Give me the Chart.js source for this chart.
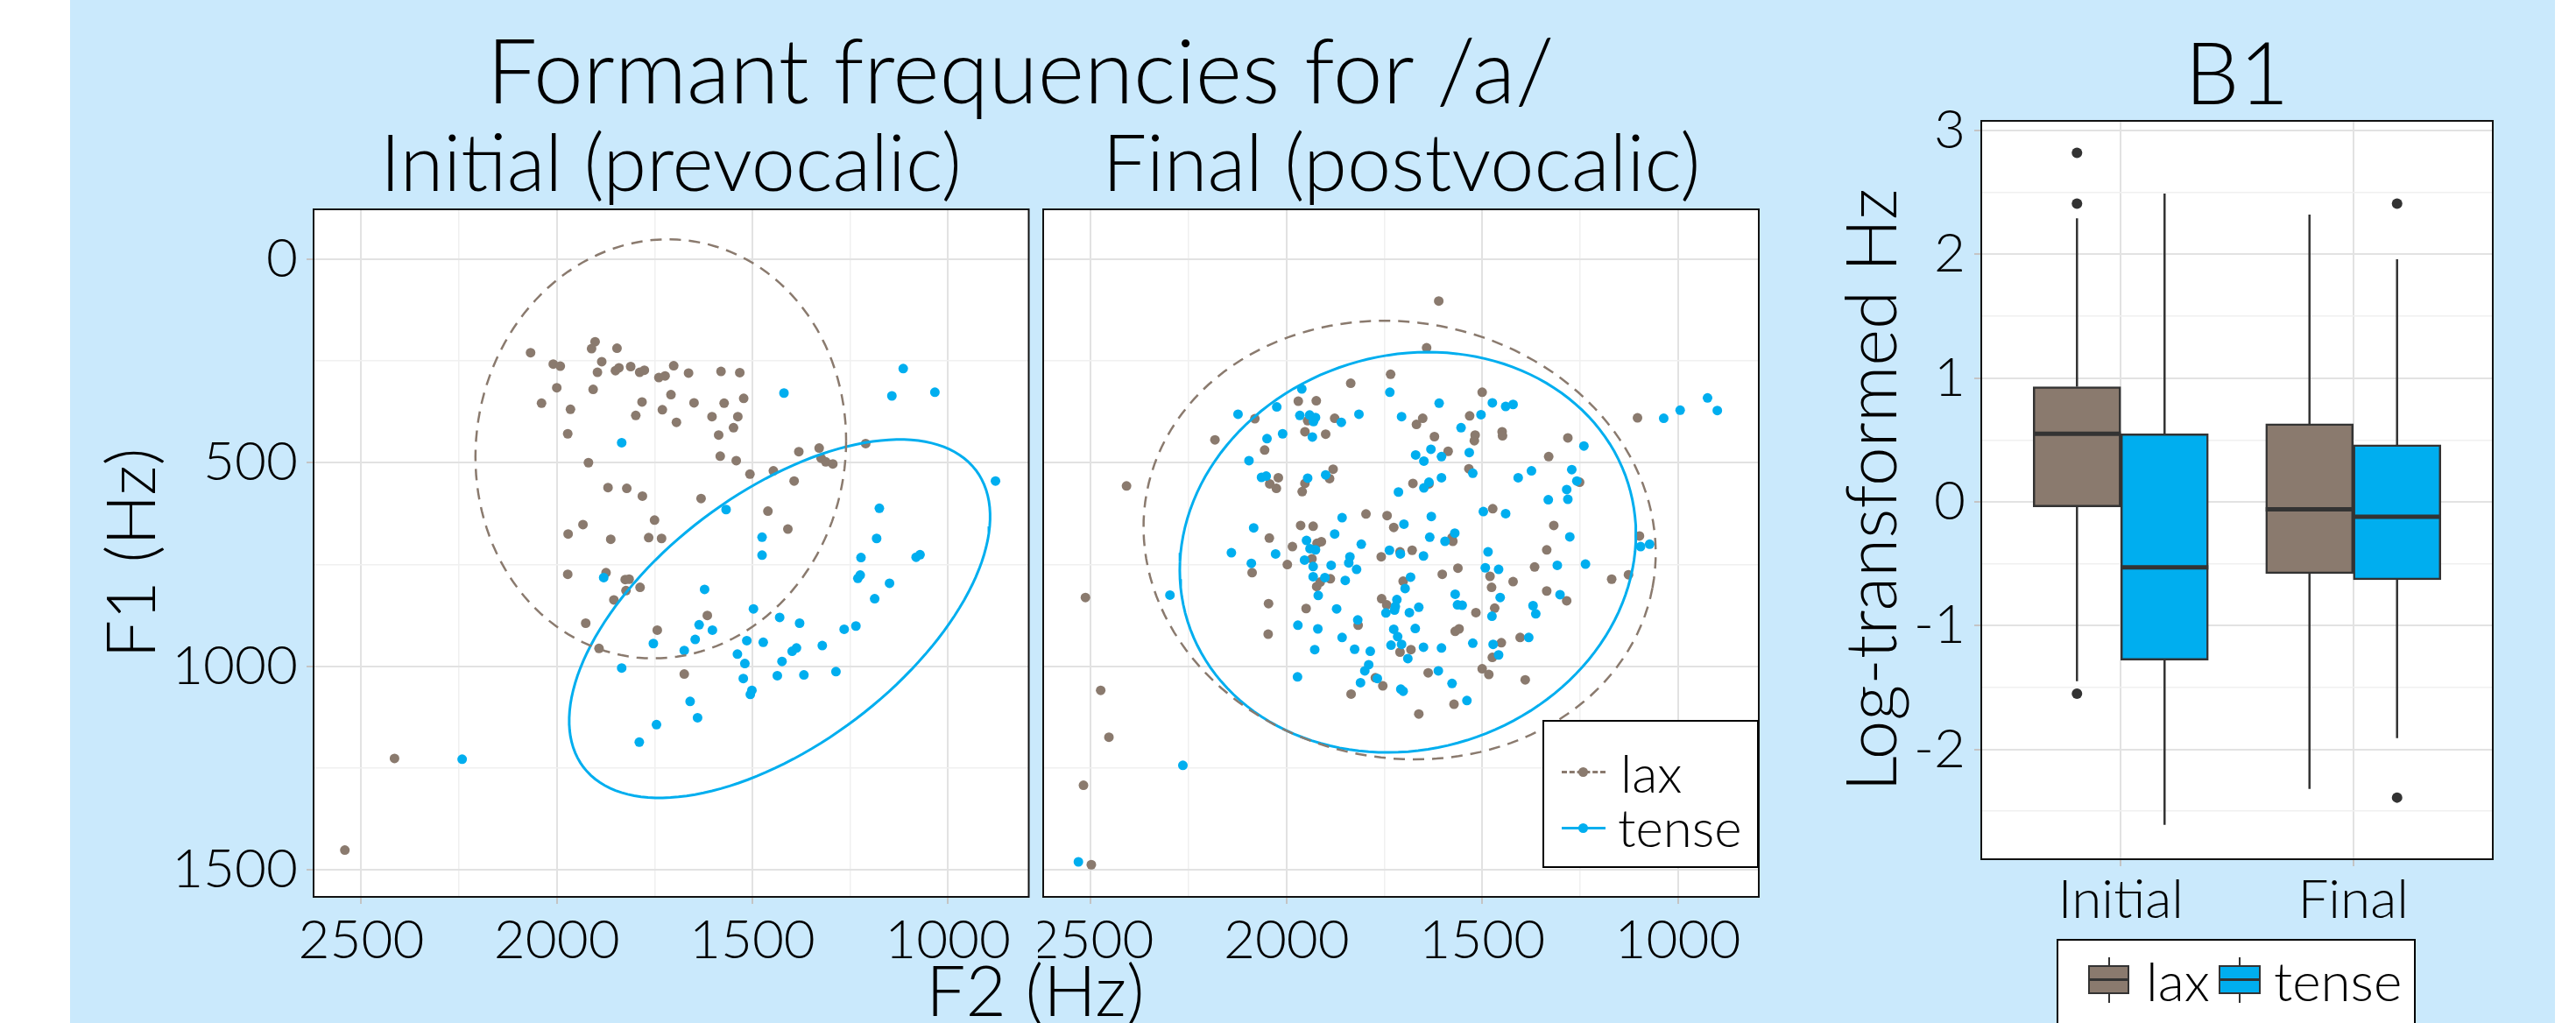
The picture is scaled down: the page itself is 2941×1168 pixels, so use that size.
<!DOCTYPE html>
<html>
<head>
<meta charset="utf-8">
<script src="https://cdn.jsdelivr.net/npm/chart.js@4.4.1/dist/chart.umd.min.js"></script>
<style>
  body { margin: 0; width: 2941px; height: 1168px; background: #fff; position: relative; overflow: hidden; font-family: Lato, "Open Sans", sans-serif; font-weight: 300; }
  #bg { position: absolute; left: 80px; top: 0; width: 2837px; height: 1168px; background: #cae9fc; }
  canvas { position: absolute; top: 0; }
  .txt { position: absolute; white-space: nowrap; line-height: 1; color: #000; transform: translateX(-50%); }
  .legend { position: absolute; background: #fff; border: 2px solid #000; }
  .legend span { position: absolute; line-height: 1; white-space: nowrap; }
</style>
</head>
<body>
<div id="bg"></div>
<canvas id="cInit" width="1100" height="1168" style="left:80px"></canvas>
<canvas id="cFinal" width="830" height="1168" style="left:1185px"></canvas>
<canvas id="cBox" width="810" height="1168" style="left:2085px"></canvas>

<div class="txt" style="left:1165px;top:28px;font-size:102px">Formant frequencies for /a/</div>
<div class="txt" style="left:766px;top:138px;font-size:90px">Initial (prevocalic)</div>
<div class="txt" style="left:1600px;top:138px;font-size:90px">Final (postvocalic)</div>
<div class="txt" style="left:1182px;top:1089px;font-size:80px">F2 (Hz)</div>
<div class="txt" style="left:2554px;top:32px;font-size:98px">B1</div>

<!-- legend for the formant panels -->
<div class="legend" style="left:1761px;top:822px;width:243px;height:165px">
  <div style="position:absolute;left:20px;top:56px;width:50px;border-top:3px dashed #8a7a6e"></div>
  <div style="position:absolute;left:39px;top:52px;width:11px;height:11px;border-radius:50%;background:#8a7a6e"></div>
  <span style="left:87px;top:28px;font-size:60px">lax</span>
  <div style="position:absolute;left:20px;top:120px;width:50px;border-top:3px solid #00aeef"></div>
  <div style="position:absolute;left:39px;top:116px;width:11px;height:11px;border-radius:50%;background:#00aeef"></div>
  <span style="left:84px;top:90px;font-size:60px">tense</span>
</div>

<!-- legend for the box plot -->
<div class="legend" style="left:2348px;top:1072px;width:406px;height:100px">
  <div style="position:absolute;left:57px;top:19px;width:2px;height:52px;background:#333"></div>
  <div style="position:absolute;left:34px;top:28px;width:43px;height:29px;background:#8a7a6e;border:2px solid #333"></div>
  <div style="position:absolute;left:36px;top:43px;width:43px;height:3px;background:#333"></div>
  <span style="left:100px;top:14px;font-size:62px">lax</span>
  <div style="position:absolute;left:206px;top:19px;width:2px;height:52px;background:#333"></div>
  <div style="position:absolute;left:183px;top:28px;width:44px;height:29px;background:#00aeef;border:2px solid #333"></div>
  <div style="position:absolute;left:185px;top:43px;width:44px;height:3px;background:#333"></div>
  <span style="left:246px;top:14px;font-size:62px">tense</span>
</div>

<script>
// ---- formant data (Hz) ----
const f2Ticks = [1000, 1250, 1500, 1750, 2000, 2250, 2500];
const f1Ticks = [0, 250, 500, 750, 1000, 1250, 1500];

const initLaxF2 = [2067, 1902, 1911, 1846, 2009, 1991, 1885, 1896, 1850, 1841, 1811, 1788, 1776, 1739, 1723, 1701, 1663, 1580, 1532, 2000,
  1907, 2039, 1965, 1782, 1708, 1649, 1572, 1522, 1798, 1730, 1694, 1603, 1537, 1548, 1586, 1972, 1919, 1582, 1541, 1381,
  1329, 1324, 1312, 1294, 1210, 1506, 1446, 1393, 1869, 1821, 1781, 1631, 1460, 1409, 1750, 1933, 1971, 1862, 1765, 1732,
  1972, 1874, 1825, 1815, 1787, 1823, 1854, 1615, 1926, 1743, 1892, 1674, 2415, 2542];
const initLaxF1 = [230, 203, 220, 219, 258, 263, 252, 278, 274, 267, 264, 278, 273, 291, 287, 262, 280, 276, 279, 316,
  320, 354, 369, 351, 333, 353, 354, 342, 384, 370, 401, 387, 387, 414, 432, 429, 500, 484, 495, 473,
  464, 489, 498, 503, 453, 528, 520, 545, 561, 563, 582, 588, 619, 663, 641, 652, 675, 688, 684, 686,
  774, 770, 787, 786, 806, 814, 837, 875, 894, 911, 956, 1019, 1226, 1451];

const initTenseF2 = [1114, 1419, 1143, 1033, 1834, 878, 1567, 1175, 1475, 1182, 1475, 1222, 1081, 1071,
  1880, 1230, 1224, 1149, 1622, 1187, 1497, 1430, 1379, 1636, 1235, 1265, 1602, 1514, 1472, 1646, 1753, 1674,
  1321, 1387, 1398, 1538, 1519, 1424, 1834, 1286, 1523, 1436, 1368, 1501, 1505, 1659, 1640, 1745, 1789, 2242];
const initTenseF1 = [269, 329, 336, 327, 451, 545, 615, 612, 683, 686, 727, 733, 732, 726,
  782, 784, 776, 796, 811, 834, 859, 880, 894, 898, 901, 909, 911, 937, 941, 934, 944, 961,
  949, 955, 963, 970, 993, 988, 1004, 1013, 1030, 1023, 1021, 1059, 1069, 1086, 1126, 1143, 1186, 1228];

const finalLaxF2 = [1611, 1642, 1734, 1836, 1500, 1970, 1924, 2081, 1946, 1877, 1652, 1668, 1532, 1953, 1900, 1622, 1518, 1520, 1449, 1448,
  2183, 2056, 1587, 1281, 1103, 1330, 2409, 2021, 2043, 2026, 1953, 1960, 1890, 1881, 1534, 1677, 1636, 1251, 1473, 1797,
  1743, 1964, 1932, 1726, 1317, 2044, 1985, 1922, 1911, 1577, 1575, 1335, 1098, 1679, 1710, 1758, 1935, 1998, 1562, 1366,
  2088, 1888, 1923, 1914, 1702, 1602, 1480, 1476, 1421, 1335, 1284, 1169, 1126, 1757, 1744, 1468, 1516, 1950, 2046, 1817,
  2514, 2047, 1569, 1559, 1403, 1451, 1474, 1710, 1682, 1638, 1773, 1754, 1500, 1483, 1390, 1835, 1572, 1662, 2475, 2454,
  2519, 2499];
const finalLaxF1 = [103, 218, 283, 305, 327, 349, 348, 392, 397, 391, 391, 406, 385, 424, 430, 436, 432, 446, 424, 434,
  444, 469, 472, 439, 390, 485, 557, 537, 552, 563, 551, 571, 539, 516, 515, 551, 552, 548, 613, 626,
  630, 654, 656, 659, 654, 685, 706, 698, 694, 684, 693, 714, 680, 715, 719, 731, 736, 750, 759, 756,
  770, 785, 804, 793, 791, 774, 779, 806, 792, 815, 839, 786, 775, 834, 849, 857, 868, 858, 846, 899,
  831, 921, 914, 908, 929, 942, 978, 965, 959, 1016, 1028, 1048, 1006, 1020, 1033, 1068, 1093, 1117, 1059, 1174,
  1292, 1487];

const finalTenseF2 = [1961, 1736, 1610, 1474, 1440, 1421, 1503, 924, 899, 994, 1036, 2025, 2124, 1966, 1941, 1926, 1931, 1815, 1860, 1706,
  1554, 2010, 2050, 1934, 1631, 1670, 1649, 1604, 1533, 2096, 1240, 2064, 2052, 1946, 1900, 1524, 1604, 1636, 1649, 1714,
  1408, 1374, 1271, 1258, 1284, 1331, 1281, 1497, 1440, 1858, 1630, 1700, 1570, 1595, 2084, 1949, 1877, 1634, 1276, 1809,
  1940, 1926, 2141, 2028, 1737, 1709, 1650, 1485, 1095, 1072, 1838, 1954, 2090, 1886, 1932, 1841, 1308, 1236, 1492, 1458,
  1821, 1850, 1932, 1902, 1919, 1683, 1697, 1569, 1454, 1301, 1872, 1718, 1722, 1662, 1746, 1724, 1686, 1563, 1551, 1475,
  1370, 1363, 2298, 1971, 1920, 1818, 1726, 1671, 1716, 1858, 1733, 1706, 1928, 1826, 1786, 1650, 1604, 1524, 1472, 1458,
  1381, 1690, 1790, 1800, 1768, 1612, 1972, 1811, 1577, 1708, 1702, 1539, 2265, 2532];
const finalTenseF1 = [319, 327, 354, 353, 362, 357, 382, 341, 372, 371, 391, 363, 381, 384, 383, 389, 399, 381, 401, 387,
  414, 429, 441, 437, 467, 481, 496, 485, 475, 495, 459, 536, 533, 538, 530, 526, 537, 548, 562, 572,
  537, 520, 517, 545, 566, 591, 590, 620, 625, 635, 632, 651, 673, 693, 660, 691, 675, 683, 682, 700,
  711, 714, 721, 724, 715, 724, 729, 719, 706, 700, 731, 739, 747, 752, 755, 746, 752, 749, 758, 762,
  762, 789, 780, 782, 826, 781, 809, 823, 831, 824, 859, 836, 853, 855, 869, 862, 868, 849, 850, 877,
  851, 871, 825, 899, 908, 886, 909, 907, 927, 929, 948, 946, 959, 958, 963, 953, 955, 943, 946, 972,
  929, 981, 996, 1011, 1030, 1011, 1026, 1040, 1042, 1056, 1061, 1084, 1243, 1480];

// ellipses: centre and two conjugate half-axes, [F2, F1]
const initLaxEllipse = { c: [1734, 466], u: [-474, -20], v: [0, 514] };
const initTenseEllipse = { c: [1430, 883], u: [-501.6, -364.8], v: [-195.3, 245.9] };
const finalLaxEllipse = { c: [1711, 690], u: [-646.2, 117.4], v: [104.3, 525.5] };
const finalTenseEllipse = { c: [1690, 720], u: [-562.8, -169.7], v: [151.8, -461.2] };

// ---- B1 box plot (log-transformed Hz), categories Initial=1, Final=2 ----
const boxCats = [1, 2];
const boxLabels = { 1: 'Initial', 2: 'Final' };
const b1Ticks = [-2.5, -2, -1.5, -1, -0.5, 0, 0.5, 1, 1.5, 2, 2.5, 3];
const laxLow = [-1.45, -2.32];
const laxQ1 = [-0.04, -0.58];
const laxMedian = [0.55, -0.06];
const laxQ3 = [0.93, 0.63];
const laxHigh = [2.29, 2.32];
const laxOutliers = [[2.82, 2.41, -1.55], []];
const tenseLow = [-2.61, -1.91];
const tenseQ1 = [-1.28, -0.63];
const tenseMedian = [-0.53, -0.12];
const tenseQ3 = [0.55, 0.46];
const tenseHigh = [2.49, 1.96];
const tenseOutliers = [[], [2.41, -2.39]];

const FONT = 'Lato, "Open Sans", sans-serif';
const LAX = '#8a7a6e';
const TENSE = '#00aeef';
const GRID_MAJOR = '#e2e2e2';
const GRID_MINOR = '#f0f0f0';
const TICK = '#c4c4c4';

const pts = (xs, ys) => xs.map((x, i) => ({ x: x, y: ys[i] }));

function ellipse(e) {
  const out = [];
  for (let k = 0; k <= 144; k++) {
    const t = 2 * Math.PI * k / 144;
    out.push({
      x: e.c[0] + e.u[0] * Math.cos(t) + e.v[0] * Math.sin(t),
      y: e.c[1] + e.u[1] * Math.cos(t) + e.v[1] * Math.sin(t)
    });
  }
  return out;
}

// white panel and black frame around the plotting area
const panel = {
  id: 'panel',
  beforeDraw(chart) {
    const a = chart.chartArea, ctx = chart.ctx;
    ctx.save();
    ctx.fillStyle = '#fff';
    ctx.fillRect(a.left, a.top, a.right - a.left, a.bottom - a.top);
    ctx.restore();
  },
  afterDraw(chart) {
    const a = chart.chartArea, ctx = chart.ctx;
    ctx.save();
    ctx.strokeStyle = '#111';
    ctx.lineWidth = 2;
    ctx.strokeRect(a.left, a.top, a.right - a.left, a.bottom - a.top);
    ctx.restore();
  }
};

const gridOpts = (isMajor) => ({
  offset: false,
  color: c => (c.tick && isMajor(c.tick.value)) ? GRID_MAJOR : GRID_MINOR,
  lineWidth: c => (c.tick && isMajor(c.tick.value)) ? 2 : 1.5,
  tickColor: c => (c.tick && isMajor(c.tick.value)) ? TICK : 'rgba(0,0,0,0)',
  tickLength: 8
});

function formantChart(id, laxF2, laxF1, tenseF2, tenseF1, laxEll, tenseEll, withY) {
  const major = v => v % 500 === 0;
  return new Chart(document.getElementById(id), {
    type: 'scatter',
    data: {
      datasets: [
        { label: 'lax ellipse', data: ellipse(laxEll), showLine: true, pointRadius: 0, borderColor: LAX, borderWidth: 2.5, borderDash: [13, 9] },
        { label: 'tense ellipse', data: ellipse(tenseEll), showLine: true, pointRadius: 0, borderColor: TENSE, borderWidth: 3 },
        { label: 'tense', data: pts(tenseF2, tenseF1), pointRadius: 5.5, pointBackgroundColor: TENSE, pointBorderWidth: 0 },
        { label: 'lax', data: pts(laxF2, laxF1), pointRadius: 5.5, pointBackgroundColor: LAX, pointBorderWidth: 0 }
      ]
    },
    options: {
      responsive: false,
      animation: false,
      devicePixelRatio: 1,
      layout: { padding: withY ? { left: 0, right: 5, top: 239, bottom: 0 } : { left: 0, right: 7, top: 239, bottom: 0 } },
      plugins: { legend: { display: false }, tooltip: { enabled: false } },
      scales: {
        x: {
          type: 'linear', reverse: true, min: 793, max: 2622,
          afterBuildTicks: s => { s.ticks = f2Ticks.map(v => ({ value: v })); },
          afterFit: s => { s.height = 144; },
          border: { display: false },
          grid: gridOpts(major),
          ticks: { autoSkip: false, maxRotation: 0, padding: 5, color: '#000', font: { family: FONT, size: 62, weight: '300' },
            callback: v => major(v) ? String(v) : '' }
        },
        y: {
          type: 'linear', reverse: true, min: -122, max: 1566,
          afterBuildTicks: s => { s.ticks = f1Ticks.map(v => ({ value: v })); },
          afterFit: s => { s.width = withY ? 278 : 6; },
          border: { display: false },
          grid: Object.assign(gridOpts(major), { drawTicks: withY }),
          title: { display: withY, text: 'F1 (Hz)', color: '#000', font: { family: FONT, size: 77, weight: '300' }, padding: { top: 26, bottom: 0 } },
          ticks: { display: withY, autoSkip: false, padding: 10, color: '#000', font: { family: FONT, size: 62, weight: '300' },
            callback: v => major(v) ? String(v) : '' }
        }
      }
    },
    plugins: [panel]
  });
}

formantChart('cInit', initLaxF2, initLaxF1, initTenseF2, initTenseF1, initLaxEllipse, initTenseEllipse, true);
formantChart('cFinal', finalLaxF2, finalLaxF1, finalTenseF2, finalTenseF1, finalLaxEllipse, finalTenseEllipse, false);

// whiskers, medians and outliers on top of the floating-bar boxes
const boxParts = {
  id: 'boxParts',
  afterDatasetsDraw(chart) {
    const y = chart.scales.y, ctx = chart.ctx;
    const groups = [
      { low: laxLow, q1: laxQ1, med: laxMedian, q3: laxQ3, high: laxHigh, out: laxOutliers },
      { low: tenseLow, q1: tenseQ1, med: tenseMedian, q3: tenseQ3, high: tenseHigh, out: tenseOutliers }
    ];
    ctx.save();
    ctx.strokeStyle = '#333';
    ctx.fillStyle = '#333';
    groups.forEach((g, di) => {
      chart.getDatasetMeta(di).data.forEach((bar, j) => {
        const x = bar.x, half = bar.width / 2;
        ctx.lineWidth = 2.5;
        ctx.beginPath();
        ctx.moveTo(x, y.getPixelForValue(g.q3[j])); ctx.lineTo(x, y.getPixelForValue(g.high[j]));
        ctx.moveTo(x, y.getPixelForValue(g.q1[j])); ctx.lineTo(x, y.getPixelForValue(g.low[j]));
        ctx.stroke();
        ctx.lineWidth = 5;
        ctx.beginPath();
        ctx.moveTo(x - half, y.getPixelForValue(g.med[j])); ctx.lineTo(x + half, y.getPixelForValue(g.med[j]));
        ctx.stroke();
        g.out[j].forEach(v => {
          ctx.beginPath();
          ctx.arc(x, y.getPixelForValue(v), 6, 0, 2 * Math.PI);
          ctx.fill();
        });
      });
    });
    ctx.restore();
  }
};

new Chart(document.getElementById('cBox'), {
  type: 'bar',
  data: {
    datasets: [
      { label: 'lax', data: boxCats.map((c, i) => ({ x: c, y: [laxQ1[i], laxQ3[i]] })), backgroundColor: LAX, borderColor: '#333', borderWidth: 2.5, borderSkipped: false, barThickness: 100 },
      { label: 'tense', data: boxCats.map((c, i) => ({ x: c, y: [tenseQ1[i], tenseQ3[i]] })), backgroundColor: TENSE, borderColor: '#333', borderWidth: 2.5, borderSkipped: false, barThickness: 100 }
    ]
  },
  options: {
    responsive: false,
    animation: false,
    devicePixelRatio: 1,
    layout: { padding: { left: 0, right: 49, top: 138, bottom: 0 } },
    plugins: { legend: { display: false }, tooltip: { enabled: false } },
    scales: {
      x: {
        type: 'linear', min: 0.4, max: 2.6, offset: false,
        afterBuildTicks: s => { s.ticks = boxCats.map(v => ({ value: v })); },
        afterFit: s => { s.height = 187; },
        border: { display: false },
        grid: gridOpts(() => true),
        ticks: { autoSkip: false, maxRotation: 0, padding: 2, color: '#000', font: { family: FONT, size: 62, weight: '300' },
          callback: v => boxLabels[v] || '' }
      },
      y: {
        type: 'linear', min: -2.888, max: 3.078,
        afterBuildTicks: s => { s.ticks = b1Ticks.map(v => ({ value: v })); },
        afterFit: s => { s.width = 177; },
        border: { display: false },
        grid: gridOpts(v => Number.isInteger(v)),
        title: { display: true, text: 'Log-transformed Hz', color: '#000', font: { family: FONT, size: 80, weight: '300' }, padding: { top: 6, bottom: 0 } },
        ticks: { autoSkip: false, padding: 10, color: '#000', font: { family: FONT, size: 62, weight: '300' },
          callback: v => Number.isInteger(v) ? String(v) : '' }
      }
    }
  },
  plugins: [panel, boxParts]
});
</script>
</body>
</html>
